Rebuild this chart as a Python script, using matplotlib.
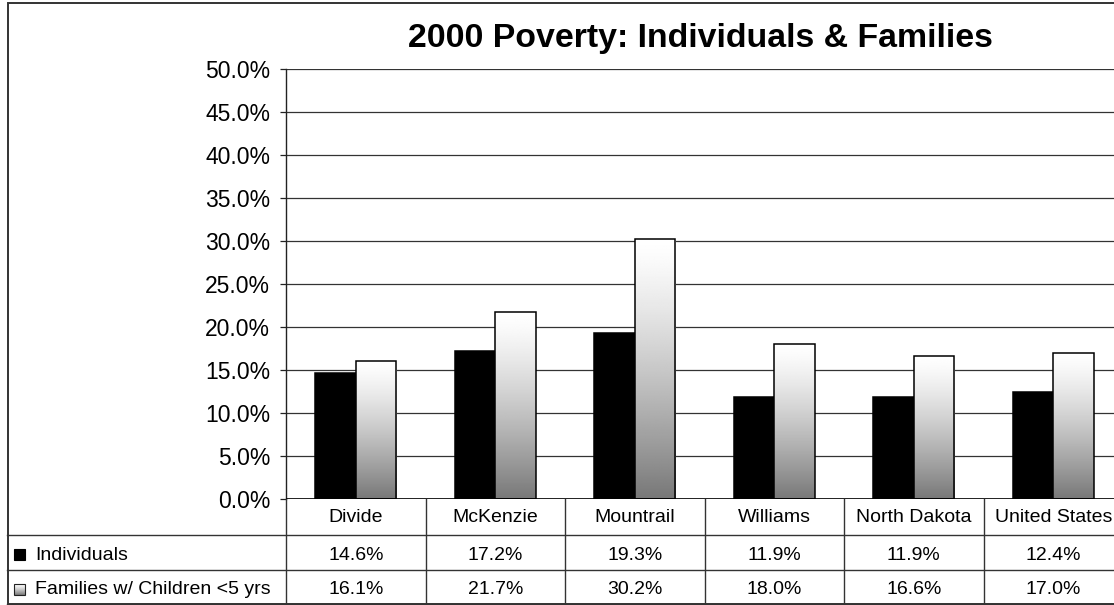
import numpy as np
import matplotlib
matplotlib.use("Agg")
import matplotlib.pyplot as plt
from matplotlib.patches import Rectangle
from matplotlib.ticker import FuncFormatter, MultipleLocator

plt.rcParams["font.family"] = ["Liberation Sans", "DejaVu Sans"]

# Poverty rates, census 2000 (percent)
categories = ["Divide", "McKenzie", "Mountrail", "Williams", "North Dakota", "United States"]
individuals = [14.6, 17.2, 19.3, 11.9, 11.9, 12.4]
families = [16.1, 21.7, 30.2, 18.0, 16.6, 17.0]
series_names = ["Individuals", "Families w/ Children <5 yrs"]
title = "2000 Poverty: Individuals & Families"

W, H = 1114, 605
fig = plt.figure(figsize=(W / 100, H / 100), dpi=100)
fig.patch.set_facecolor("white")

# Plot area in pixel geometry (category band = 139.5 px)
left_px, top_px, zero_px = 286, 69, 499
band = 139.5
n = len(categories)
right_px = left_px + n * band
ax = fig.add_axes([left_px / W, (H - zero_px) / H,
                   (right_px - left_px) / W, (zero_px - top_px) / H])

x = np.arange(n)
bw = 0.29

# Individuals: solid black
ax.bar(x - bw / 2, individuals, width=bw, color="black",
       edgecolor="black", linewidth=1.1, zorder=3)

# Families: vertical white-to-grey gradient inside each bar
t = np.linspace(0, 1, 256)[:, None]
grad = 1.0 - 0.53 * t ** 1.3
fam_bars = ax.bar(x + bw / 2, families, width=bw, color="none",
                  edgecolor="black", linewidth=1.1, zorder=4)
for bar in fam_bars:
    bx, by = bar.get_x(), bar.get_y()
    bwid, bh = bar.get_width(), bar.get_height()
    im = ax.imshow(grad, cmap="gray", vmin=0, vmax=1, aspect="auto",
                   extent=[bx, bx + bwid, by, by + bh], origin="upper",
                   zorder=3, interpolation="bilinear")
    im.set_clip_path(bar)

ax.set_xlim(-0.5, n - 0.5)
ax.set_ylim(0, 50)
ax.yaxis.set_major_locator(MultipleLocator(5))
ax.yaxis.set_major_formatter(FuncFormatter(lambda v, p: f"{v:.1f}%"))
ax.set_xticks([])
ax.tick_params(axis="y", direction="out", length=4.5, width=0.9,
               color="#222222", labelsize=16.5, pad=7)
ax.yaxis.grid(True, color="#333333", linewidth=0.9)
ax.set_axisbelow(True)
for side in ("top", "right", "bottom"):
    ax.spines[side].set_visible(False)
ax.spines["left"].set_color("#222222")
ax.spines["left"].set_linewidth(1.0)
ax.axhline(0, color="black", linewidth=1.2, zorder=5)

# Data table below the plot, sharing category units along x
tbl_left_px = 7
tbl_h = 105
tx0 = -0.5 - (left_px - tbl_left_px) / band
tax = fig.add_axes([tbl_left_px / W, (H - zero_px - tbl_h) / H,
                    (right_px - tbl_left_px) / W, tbl_h / H])
tax.set_xlim(tx0, n - 0.5)
tax.set_ylim(tbl_h, 0)
tax.axis("off")

line_kw = dict(color="#333333", linewidth=1.0, clip_on=False)
for xb in np.arange(-0.5, n, 1.0):
    tax.plot([xb, xb], [0, tbl_h], **line_kw)
for yb in (36, 71, tbl_h - 0.5):
    tax.plot([tx0, n - 0.5], [yb, yb], **line_kw)

fs = 14
for i, cat in enumerate(categories):
    tax.text(i, 23, cat, ha="center", va="baseline", fontsize=fs)
    tax.text(i, 61, f"{individuals[i]:.1f}%", ha="center", va="baseline", fontsize=fs)
    tax.text(i, 95, f"{families[i]:.1f}%", ha="center", va="baseline", fontsize=fs)

# Legend keys in the row headers
key_w = 11 / band
kx = tx0 + 7 / band
tax.add_patch(Rectangle((kx, 50), key_w, 11, facecolor="black",
                        edgecolor="black", linewidth=0.8, clip_on=False))
key2 = Rectangle((kx, 85), key_w, 11, facecolor="none",
                 edgecolor="#222222", linewidth=0.8, clip_on=False, zorder=4)
tax.add_patch(key2)
kim = tax.imshow(grad, cmap="gray", vmin=0, vmax=1, aspect="auto",
                 extent=[kx, kx + key_w, 96, 85], origin="upper", zorder=3)
kim.set_clip_path(key2)
tax.set_xlim(tx0, n - 0.5)
tax.set_ylim(tbl_h, 0)
tax.text(tx0 + 28 / band, 61, series_names[0], ha="left", va="baseline", fontsize=fs)
tax.text(tx0 + 28 / band, 95, series_names[1], ha="left", va="baseline", fontsize=fs)

# Chart title
fig.text(700 / W, (H - 47) / H, title, ha="center", va="baseline",
         fontsize=24.4, fontweight="bold")

# Chart area border
fig.add_artist(Rectangle((7.5 / W, 1.0 / H), (right_px + 20) / W, (H - 4) / H,
                         transform=fig.transFigure, facecolor="none",
                         edgecolor="#333333", linewidth=1.4))

fig.savefig("out.png", dpi=100)
